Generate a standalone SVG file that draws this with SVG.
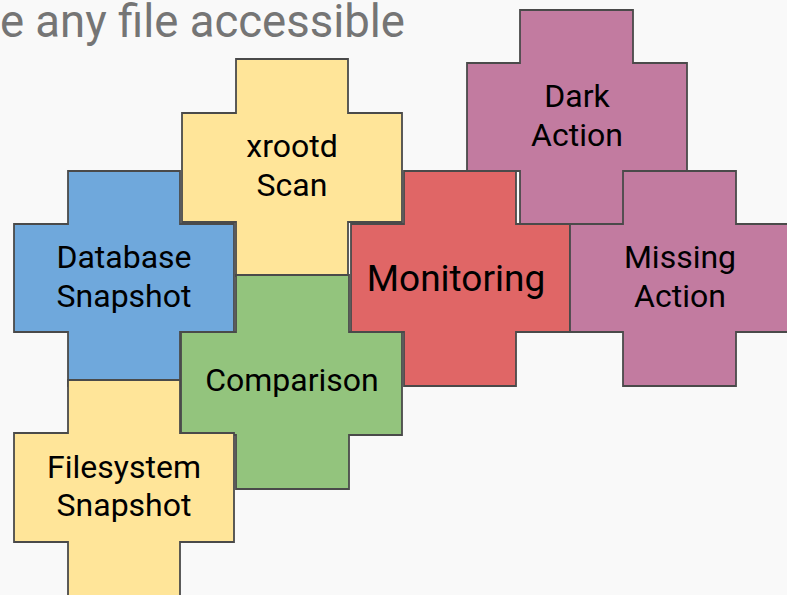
<svg xmlns="http://www.w3.org/2000/svg" width="787" height="595" viewBox="0 0 787 595">
  <style>
    .piece { stroke: #4a4a4a; stroke-width: 1.8; stroke-linejoin: miter; }
    .blue { fill: #6fa8dc; }
    .yellow { fill: #ffe599; }
    .green { fill: #93c47d; }
    .red { fill: #e06666; }
    .purple { fill: #c27ba0; }
    .label { font-family: Roboto, "Liberation Sans", sans-serif; font-size: 32px; fill: #000; text-anchor: middle; }
    .big { font-size: 37px; }
    .title { font-family: Roboto, "Liberation Sans", sans-serif; font-size: 45.5px; fill: #757575; text-anchor: end; }
  </style>

  <rect x="0" y="0" width="787" height="595" fill="#f9f9f9"/>

  <text class="title" x="405" y="37">e any file accessible</text>

  <!-- cross-shaped pieces: arm width 112, body width 220 -->
  <g id="dark-action">
    <path class="piece purple" d="M520,10 H633 V63 H687 V171 H633 V224 H520 V171 H467 V63 H520 Z"/>
    <text class="label" x="577" y="107">Dark</text>
    <text class="label" x="577" y="146">Action</text>
  </g>

  <g id="xrootd-scan">
    <path class="piece yellow" d="M236,59 H348 V113 H402 V222 H348 V276 H236 V222 H182 V113 H236 Z"/>
    <text class="label" x="292" y="157">xrootd</text>
    <text class="label" x="292" y="196">Scan</text>
  </g>

  <g id="database-snapshot">
    <path class="piece blue" d="M68,171 H180 V224 H234 V332 H180 V386 H68 V332 H14 V224 H68 Z"/>
    <text class="label" x="124" y="268">Database</text>
    <text class="label" x="124" y="307">Snapshot</text>
  </g>

  <g id="comparison">
    <path class="piece green" d="M236,275 H349 V332 H402 V435 H349 V489 H236 V435 H181 V332 H236 Z"/>
    <text class="label" x="292" y="391">Comparison</text>
  </g>

  <g id="filesystem-snapshot">
    <path class="piece yellow" d="M68,380 H180 V433 H234 V542 H180 V596 H68 V542 H14 V433 H68 Z"/>
    <text class="label" x="124" y="478">Filesystem</text>
    <text class="label" x="124" y="516">Snapshot</text>
  </g>

  <g id="monitoring">
    <path class="piece red" d="M404,171 H516 V224 H570 V332 H516 V386 H404 V332 H351 V224 H404 Z"/>
    <text class="label big" x="456" y="291">Monitoring</text>
  </g>

  <g id="missing-action">
    <path class="piece purple" d="M623,171 H736 V224 H790 V332 H736 V386 H623 V332 H570 V224 H623 Z"/>
    <text class="label" x="680" y="268">Missing</text>
    <text class="label" x="680" y="307">Action</text>
  </g>

  <g id="connectors"></g>
</svg>
